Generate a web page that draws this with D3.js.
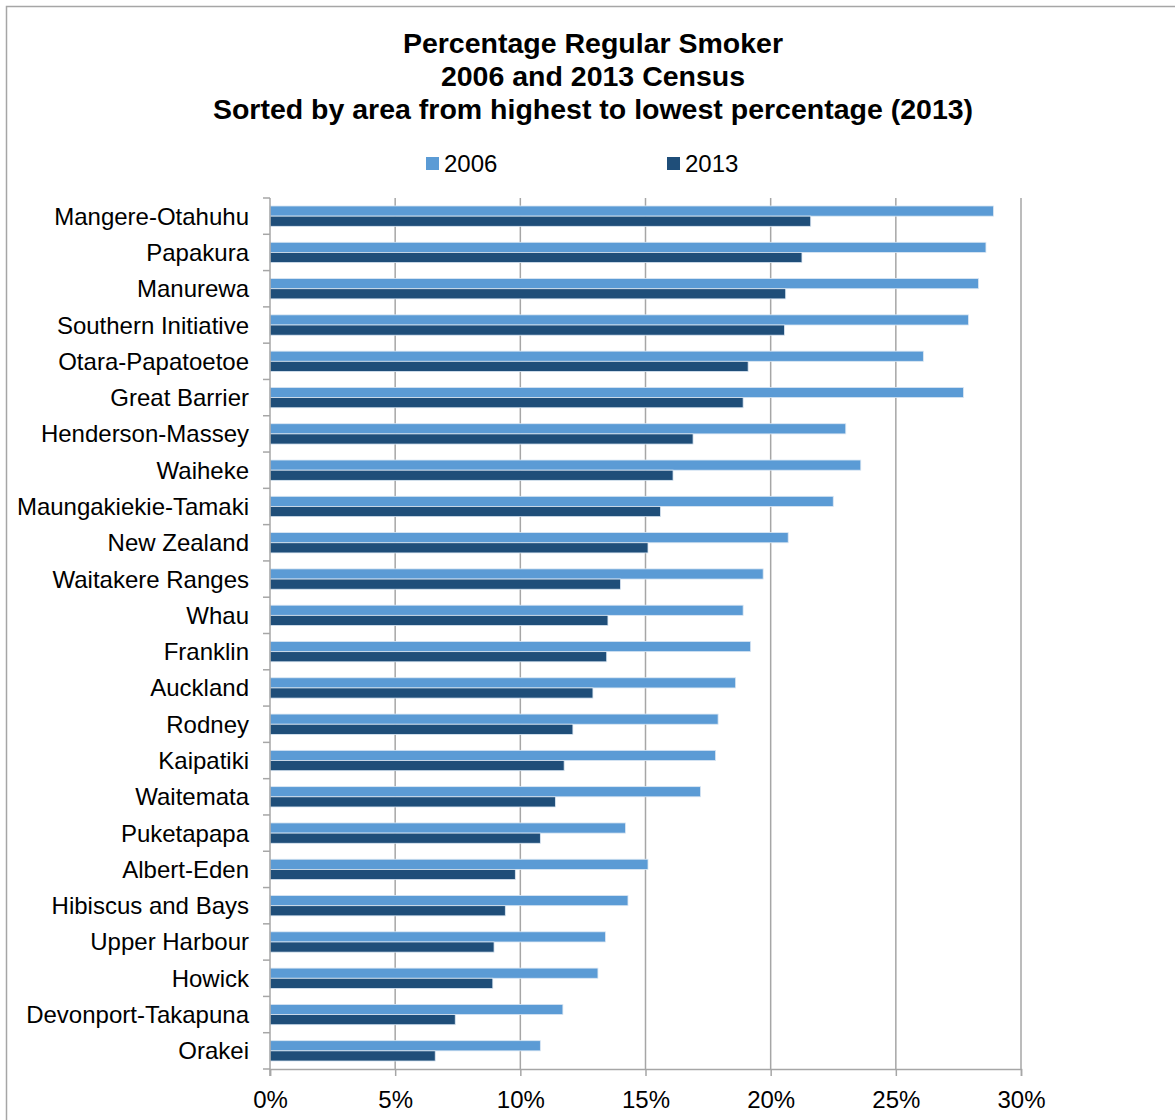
<!DOCTYPE html>
<html>
<head>
<meta charset="utf-8">
<script src="https://cdn.jsdelivr.net/npm/d3@7"></script>
<style>
  body { margin: 0; background: #fff; }
  text { font-family: "Liberation Sans", Arial, sans-serif; fill: #000; }
</style>
</head>
<body>
<script>
const w = 1175;
const h = 1120;

// data
const areas = [
  "Mangere-Otahuhu", "Papakura", "Manurewa", "Southern Initiative",
  "Otara-Papatoetoe", "Great Barrier", "Henderson-Massey", "Waiheke",
  "Maungakiekie-Tamaki", "New Zealand", "Waitakere Ranges", "Whau",
  "Franklin", "Auckland", "Rodney", "Kaipatiki", "Waitemata",
  "Puketapapa", "Albert-Eden", "Hibiscus and Bays", "Upper Harbour",
  "Howick", "Devonport-Takapuna", "Orakei"
];
const values2006 = [
  28.9, 28.6, 28.3, 27.9, 26.1, 27.7, 23.0, 23.6, 22.5, 20.7, 19.7, 18.9,
  19.2, 18.6, 17.9, 17.8, 17.2, 14.2, 15.1, 14.3, 13.4, 13.1, 11.7, 10.8
];
const values2013 = [
  21.6, 21.25, 20.6, 20.55, 19.1, 18.9, 16.9, 16.1, 15.6, 15.1, 14.0, 13.5,
  13.45, 12.9, 12.1, 11.75, 11.4, 10.8, 9.8, 9.4, 8.95, 8.9, 7.4, 6.6
];
const seriesNames = ["2006", "2013"];
const xTicks = [0, 5, 10, 15, 20, 25, 30];
const titleLines = [
  "Percentage Regular Smoker",
  "2006 and 2013 Census",
  "Sorted by area from highest to lowest percentage (2013)"
];

const colors = { "2006": "#5b9bd5", "2013": "#1f4e79" };

const rows = areas.map((a, i) => ({ area: a, "2006": values2006[i], "2013": values2013[i] }));

const plotLeft = 270, plotRight = 1021, plotTop = 198, plotBottom = 1069;

const svg = d3.select("body").append("svg").attr("width", w).attr("height", h);

// chart border
svg.append("rect")
  .attr("x", 6.5).attr("y", 6.5)
  .attr("width", w + 20).attr("height", h + 20)
  .attr("fill", "none").attr("stroke", "#a6a6a6").attr("stroke-width", 1.5);

// title
svg.append("g").selectAll("text")
  .data(titleLines)
  .enter()
  .append("text")
  .attr("x", 593)
  .attr("y", (d, i) => 53 + i * 33)
  .attr("text-anchor", "middle")
  .attr("font-size", "28.5px")
  .attr("font-weight", "bold")
  .text(d => d);

const xScale = d3.scaleLinear().domain([0, 30]).range([plotLeft, plotRight]);

const yScale = d3.scaleBand()
  .domain(areas)
  .range([plotTop, plotBottom])
  .paddingInner(0.44)
  .paddingOuter(0.22);

const ySub = d3.scaleBand()
  .domain(seriesNames)
  .range([0, yScale.bandwidth()]);

// gridlines
svg.append("g")
  .selectAll("line")
  .data(xTicks.slice(1))
  .enter()
  .append("line")
  .attr("x1", d => xScale(d)).attr("x2", d => xScale(d))
  .attr("y1", plotTop).attr("y2", plotBottom)
  .attr("stroke", "#a6a6a6")
  .attr("stroke-width", 1.5);

// bars
const groups = svg.append("g")
  .selectAll("g")
  .data(rows)
  .enter()
  .append("g")
  .attr("transform", d => "translate(0," + yScale(d.area) + ")");

groups.selectAll("rect")
  .data(d => seriesNames.map(s => ({ key: s, value: d[s] })))
  .enter()
  .append("rect")
  .attr("x", xScale(0))
  .attr("y", d => ySub(d.key))
  .attr("width", d => xScale(d.value) - xScale(0))
  .attr("height", ySub.bandwidth())
  .attr("fill", d => colors[d.key])
  .attr("stroke", "#dbe7f3")
  .attr("stroke-width", 0.8);

// X axis
const xAxis = d3.axisBottom(xScale)
  .tickValues(xTicks)
  .tickSize(7)
  .tickFormat(d => d + "%");

const gx = svg.append("g")
  .attr("transform", "translate(0," + plotBottom + ")")
  .call(xAxis);
gx.select(".domain").attr("stroke", "#a6a6a6").attr("stroke-width", 1.5);
gx.selectAll(".tick line").attr("stroke", "#a6a6a6").attr("stroke-width", 1.5);
gx.selectAll(".tick text")
  .attr("font-size", "24px")
  .attr("font-family", "Liberation Sans, Arial, sans-serif")
  .attr("fill", "#000")
  .attr("dy", "0")
  .attr("y", 39);

// Y axis
const gy = svg.append("g")
  .attr("transform", "translate(" + plotLeft + ",0)");
gy.append("line")
  .attr("x1", 0).attr("x2", 0)
  .attr("y1", plotTop).attr("y2", plotBottom + 7)
  .attr("stroke", "#a6a6a6").attr("stroke-width", 1.5);

const step = yScale.step();
const boundaries = d3.range(areas.length + 1).map(i => plotTop + i * step);
gy.selectAll("line.cat")
  .data(boundaries)
  .enter()
  .append("line")
  .attr("class", "cat")
  .attr("x1", -7).attr("x2", 0)
  .attr("y1", d => d).attr("y2", d => d)
  .attr("stroke", "#a6a6a6").attr("stroke-width", 1.5);

gy.selectAll("text")
  .data(areas)
  .enter()
  .append("text")
  .attr("x", -21)
  .attr("y", d => yScale(d) + yScale.bandwidth() / 2 + 8.5)
  .attr("text-anchor", "end")
  .attr("font-size", "24px")
  .text(d => d);

// legend
const legendX = [426, 667];
const legend = svg.append("g")
  .selectAll("g")
  .data(seriesNames)
  .enter()
  .append("g")
  .attr("transform", (d, i) => "translate(" + legendX[i] + ",157)");
legend.append("rect")
  .attr("width", 13).attr("height", 13)
  .attr("fill", d => colors[d]);
legend.append("text")
  .attr("x", 18).attr("y", 14.5)
  .attr("font-size", "24px")
  .text(d => d);
</script>
</body>
</html>
